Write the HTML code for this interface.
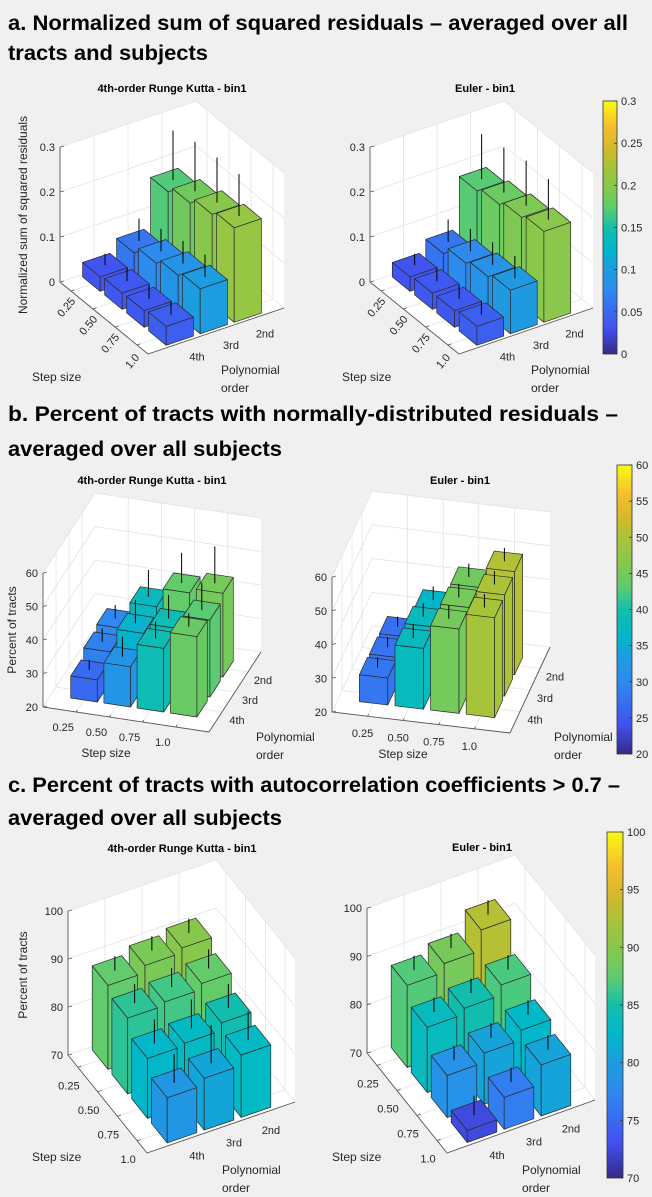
<!DOCTYPE html>
<html><head><meta charset="utf-8">
<style>
html,body{margin:0;padding:0;background:#f0f0f0;}
svg{display:block;font-family:"Liberation Sans",Arial,sans-serif;}
</style></head>
<body>
<svg id="fig" width="652" height="1197" viewBox="0 0 652 1197" xmlns="http://www.w3.org/2000/svg">
<defs>
<linearGradient id="parula" x1="0" y1="1" x2="0" y2="0">
<stop offset="0" stop-color="rgb(53,42,135)"/>
<stop offset="0.1" stop-color="rgb(66,80,240)"/>
<stop offset="0.25" stop-color="rgb(46,138,240)"/>
<stop offset="0.33" stop-color="rgb(30,155,224)"/>
<stop offset="0.42" stop-color="rgb(0,184,200)"/>
<stop offset="0.5" stop-color="rgb(20,190,170)"/>
<stop offset="0.55" stop-color="rgb(65,200,135)"/>
<stop offset="0.58" stop-color="rgb(95,203,110)"/>
<stop offset="0.65" stop-color="rgb(130,200,80)"/>
<stop offset="0.75" stop-color="rgb(170,195,55)"/>
<stop offset="0.8" stop-color="rgb(205,185,45)"/>
<stop offset="0.9" stop-color="rgb(245,190,45)"/>
<stop offset="1" stop-color="rgb(249,251,14)"/>
</linearGradient>
</defs>
<rect width="652" height="1197" fill="#f0f0f0"/>
<g font-weight="bold" font-size="21" fill="#000">
<text x="8" y="30" textLength="620" lengthAdjust="spacingAndGlyphs">a. Normalized sum of squared residuals – averaged over all</text>
<text x="8" y="60" textLength="200" lengthAdjust="spacingAndGlyphs">tracts and subjects</text>
<text x="8" y="421" textLength="610" lengthAdjust="spacingAndGlyphs">b. Percent of tracts with normally-distributed residuals –</text>
<text x="8" y="456" textLength="274" lengthAdjust="spacingAndGlyphs">averaged over all subjects</text>
<text x="8" y="792" textLength="612" lengthAdjust="spacingAndGlyphs">c. Percent of tracts with autocorrelation coefficients &gt; 0.7 –</text>
<text x="8" y="825" textLength="274" lengthAdjust="spacingAndGlyphs">averaged over all subjects</text>
</g>
<g id="panels"></g>
</svg>
<script>
// ---- data ----
const stepLabels = ['0.25','0.50','0.75','1.0'];
const orderLabels = ['4th','3rd','2nd'];
// values[order][step]  order: 4th,3rd,2nd ; step: 0.25..1.0
const aRkValues = [[0.032,0.036,0.037,0.042],[0.06,0.077,0.09,0.10],[0.17,0.185,0.2,0.21]];
const aRkErrors = [[0.025,0.03,0.03,0.03],[0.05,0.05,0.05,0.05],[0.11,0.11,0.10,0.093]];
const aEuValues = [[0.032,0.036,0.037,0.042],[0.058,0.077,0.087,0.097],[0.172,0.182,0.193,0.202]];
const aEuErrors = [[0.025,0.03,0.03,0.03],[0.05,0.05,0.05,0.05],[0.1,0.1,0.1,0.09]];
const bRkValues = [[26.6,32,39,44],[29,36,39,43],[30,38,43.6,45]];
const bRkErrors = [[3,6,5,4],[4,7,7,8],[4,8,9,11]];
const bEuValues = [[28,38,45,49.6],[27.7,38,45,50],[27.4,36.6,44.6,50.5]];
const bEuErrors = [[3,4,4,4],[3,4,4,4],[3,4,4,4]];
const cRkValues = [[87.5,85.8,82.5,79.4],[89,86.5,83,80.8],[90,87.7,84.6,83]];
const cRkErrors = [[3,4,5,6],[3,4,6,8],[3,4,5,6]];
const cEuValues = [[87,83.5,78.7,72.5],[88.8,84.7,80.6,76.6],[93,86.8,82.6,80.6]];
const cEuErrors = [[3,3,3,4],[3,3,3,3],[3,3,3,3]];
const aTicks = [0,0.1,0.2,0.3];
const aTickLabels = ['0','0.1','0.2','0.3'];
const bTicks = [20,30,40,50,60];
const bTickLabels = ['20','30','40','50','60'];
const cTicks = [70,80,90,100];
const cTickLabels = ['70','80','90','100'];
const aBarTicks = ['0','0.05','0.1','0.15','0.2','0.25','0.3'];
const bBarTicks = ['20','25','30','35','40','45','50','55','60'];
const cBarTicks = ['70','75','80','85','90','95','100'];

// ---- colormap ----
const cmapStops = [[0,53,42,135],[0.1,66,80,240],[0.25,46,138,240],[0.33,30,155,224],[0.42,0,184,200],[0.5,20,190,170],[0.55,65,200,135],[0.58,95,203,110],[0.65,130,200,80],[0.75,170,195,55],[0.8,205,185,45],[0.9,245,190,45],[1,249,251,14]];
function parula(t){
  t=Math.max(0,Math.min(1,t));
  for(let i=1;i<cmapStops.length;i++){
    const a=cmapStops[i-1], b=cmapStops[i];
    if(t<=b[0]){const f=(t-a[0])/(b[0]-a[0]);
      return 'rgb('+[1,2,3].map(k=>Math.round(a[k]+(b[k]-a[k])*f)).join(',')+')';}
  }
  return 'rgb(249,251,14)';
}

const NS='http://www.w3.org/2000/svg';
const root=document.getElementById('panels');
function mk(tag,attrs,parent){const e=document.createElementNS(NS,tag);for(const k in attrs)e.setAttribute(k,attrs[k]);(parent||root).appendChild(e);return e;}

function drawPanel(p){
  const g=mk('g',{});
  
  
  const P=(u,v,z)=>[p.P0[0]+p.S[0]*u+p.R[0]*v, p.P0[1]+p.S[1]*u+p.R[1]*v-(z-p.zmin)*p.k];
  const pts=a=>a.map(q=>q[0].toFixed(1)+','+q[1].toFixed(1)).join(' ');
  const sR=p.sLim[1]-p.sLim[0], oR=p.oLim[1]-p.oLim[0];
  const su=i=>(i+1-p.sLim[0])/sR, ov=j=>(j+1-p.oLim[0])/oR;
  const floor=mk('polygon',{points:pts([P(0,0,p.zmin),P(1,0,p.zmin),P(1,1,p.zmin),P(0,1,p.zmin)]),fill:'#fff'},g);
   
  const lw=mk('polygon',{points:pts([P(0,0,p.zmin),P(0,1,p.zmin),P(0,1,p.zmax),P(0,0,p.zmax)]),fill:'#fff'},g);
   
  const bw=mk('polygon',{points:pts([P(0,1,p.zmin),P(1,1,p.zmin),P(1,1,p.zmax),P(0,1,p.zmax)]),fill:'#fff'},g);
   
  const grid=mk('g',{stroke:'#e3e3e3','stroke-width':0.8,fill:'none'},g);
   
  p.ticks.forEach(t=>{mk('polyline',{points:pts([P(0,0,t),P(0,1,t),P(1,1,t)])},grid);});
  for(let i=0;i<4;i++){const u=su(i);mk('polyline',{points:pts([P(u,0,p.zmin),P(u,1,p.zmin),P(u,1,p.zmax)])},grid);}
  for(let j=0;j<3;j++){const v=ov(j);mk('polyline',{points:pts([P(1,v,p.zmin),P(0,v,p.zmin),P(0,v,p.zmax)])},grid);}
  const ax=mk('g',{stroke:'#555','stroke-width':0.9,fill:'none'},g);
   
  mk('polyline',{points:pts([P(0,0,p.zmax),P(0,0,p.zmin),P(1,0,p.zmin),P(1,1,p.zmin)])},ax);
  p.ticks.forEach((t,k)=>{
    const q=P(0,0,t);
    mk('line',{x1:q[0],y1:q[1],x2:q[0]+4,y2:q[1]-1,stroke:'#555','stroke-width':0.8},g);
    const tx=mk('text',{x:q[0]-5,y:q[1]+4,'font-size':11,fill:'#262626','text-anchor':'end'},g);
    tx.textContent=p.tickLabels[k];
     
  });
  stepLabels.forEach((s,i)=>{
    const q=P(su(i),0,p.zmin);
    mk('line',{x1:q[0],y1:q[1],x2:q[0]+p.R[0]*0.025,y2:q[1]+p.R[1]*0.025,stroke:'#555','stroke-width':0.8},g);
    const x=q[0]+p.stepOff[0], y=q[1]+p.stepOff[1];
    const a={x:x,y:y,'font-size':11,fill:'#262626','text-anchor':'middle'};
    if(p.stepRot) a.transform='rotate('+p.stepRot+' '+x+' '+(y-4)+')';
    const tx=mk('text',a,g); tx.textContent=s;
     
  });
  orderLabels.forEach((s,j)=>{
    const q=P(1,ov(j),p.zmin);
    const tx=mk('text',{x:q[0]+p.ordOff[0],y:q[1]+p.ordOff[1],'font-size':11,fill:'#262626','text-anchor':'middle'},g);
    tx.textContent=s;
     
  });
  const hu=0.4/sR, hv=0.4/oR, bars=[];
  for(let j=0;j<3;j++)for(let i=0;i<4;i++){
    const uc=su(i), vc=ov(j);
    bars.push({i,j,uc,vc,val:p.values[j][i],err:p.errors[j][i],key:P(uc,vc,p.zmin)[1]});
  }
  bars.sort((a,b)=>a.key-b.key);
  bars.forEach(b=>{
    const bg=mk('g',{},g);
    
    
    const u0=b.uc-hu,u1=b.uc+hu,v0=b.vc-hv,v1=b.vc+hv,zb=p.zmin,zt=b.val;
    const col=parula((b.val-p.cmin)/(p.cmax-p.cmin));
    const st={fill:col,stroke:'#2a2a2a','stroke-width':0.7,'stroke-linejoin':'round'};
    mk('polygon',Object.assign({points:pts([P(u0,v0,zb),P(u1,v0,zb),P(u1,v0,zt),P(u0,v0,zt)])},st),bg);
    mk('polygon',Object.assign({points:pts([P(u1,v0,zb),P(u1,v1,zb),P(u1,v1,zt),P(u1,v0,zt)])},st),bg);
    mk('polygon',Object.assign({points:pts([P(u0,v0,zt),P(u1,v0,zt),P(u1,v1,zt),P(u0,v1,zt)])},st),bg);
    const e0=P(b.uc,b.vc,zt), e1=P(b.uc,b.vc,zt+b.err);
    const el=mk('line',{x1:e0[0],y1:e0[1],x2:e1[0],y2:e1[1],stroke:'#000','stroke-width':1},g);
    
    
  });
  const tt=mk('text',{x:p.title[1],y:p.title[2],'font-size':11,'font-weight':'bold',fill:'#000','text-anchor':'middle'},g);
  tt.textContent=p.title[0];
   
  if(p.zlabel){
    const zl=mk('text',{x:p.zlabel[1],y:p.zlabel[2],'font-size':12,fill:'#262626','text-anchor':'middle',transform:'rotate(-90 '+p.zlabel[1]+' '+p.zlabel[2]+')'},g);
    zl.textContent=p.zlabel[0];
     
  }
  const sl=mk('text',{x:p.slabel[0],y:p.slabel[1],'font-size':12,fill:'#262626','text-anchor':p.slabel[2]},g);
  sl.textContent='Step size';
   
  const ol=mk('text',{x:p.olabel[0],y:p.olabel[1],'font-size':12,fill:'#262626'},g);
   
  const t1=mk('tspan',{x:p.olabel[0],dy:0},ol); t1.textContent='Polynomial';
  const t2=mk('tspan',{x:p.olabel[0],dy:18},ol); t2.textContent='order';
}

function drawColorbar(c){
  const g=mk('g',{});
  
  
  mk('rect',{x:c.x,y:c.y0,width:c.w,height:c.y1-c.y0,fill:'url(#parula)',stroke:'#333','stroke-width':0.8},g);
  const n=c.labels.length;
  c.labels.forEach((s,k)=>{
    const y=c.y1-(c.y1-c.y0)*k/(n-1);
    mk('line',{x1:c.x+c.w-3,y1:y,x2:c.x+c.w,y2:y,stroke:'#333','stroke-width':0.8},g);
    const t=mk('text',{x:c.x+c.w+4,y:y+4,'font-size':11,fill:'#262626'},g);
    t.textContent=s;
     
  });
}

const aCommon={zmin:0,zmax:0.3,k:450,ticks:aTicks,tickLabels:aTickLabels,sLim:[0.5,4.5],oLim:[0,4],cmin:0,cmax:0.3,stepOff:[-5,20],stepRot:-50,ordOff:[15,18]};
drawPanel(Object.assign({},aCommon,{name:'panel-a-rk4',P0:[60,282],S:[88,72],R:[136,-46],values:aRkValues,errors:aRkErrors,
  title:['4th-order Runge Kutta - bin1',172,92],zlabel:['Normalized sum of squared residuals',27,215],slabel:[32,381,'start'],olabel:[221,374]}));
drawPanel(Object.assign({},aCommon,{name:'panel-a-euler',P0:[370,282],S:[89,72],R:[134,-46],values:aEuValues,errors:aEuErrors,
  title:['Euler - bin1',485,92],zlabel:null,slabel:[342,381,'start'],olabel:[531,374]}));
const bCommon={zmin:20,zmax:60,ticks:bTicks,tickLabels:bTickLabels,sLim:[0,5],oLim:[0,4],cmin:20,cmax:60,stepRot:0,ordOff:[15,12]};
drawPanel(Object.assign({},bCommon,{name:'panel-b-rk4',P0:[43,707],S:[166,25],R:[52,-80],k:3.35,stepOff:[-13,19],values:bRkValues,errors:bRkErrors,
  title:['4th-order Runge Kutta - bin1',152,484],zlabel:['Percent of tracts',16,630],slabel:[106,757,'middle'],olabel:[256,741]}));
drawPanel(Object.assign({},bCommon,{name:'panel-b-euler',P0:[332,712],S:[178,21],R:[40,-86],k:3.375,stepOff:[-5,21],values:bEuValues,errors:bEuErrors,
  title:['Euler - bin1',460,484],zlabel:null,slabel:[403,758,'middle'],olabel:[554,741]}));
const cCommon={zmin:70,zmax:100,ticks:cTicks,tickLabels:cTickLabels,sLim:[0.5,4.5],oLim:[0,4],cmin:70,cmax:100,stepRot:0,stepOff:[-9,22],ordOff:[13,19]};
drawPanel(Object.assign({},cCommon,{name:'panel-c-rk4',P0:[68,1055],S:[79,98],R:[148,-51],k:4.8,values:cRkValues,errors:cRkErrors,
  title:['4th-order Runge Kutta - bin1',182,852],zlabel:['Percent of tracts',27,975],slabel:[32,1161,'start'],olabel:[222,1174]}));
drawPanel(Object.assign({},cCommon,{name:'panel-c-euler',P0:[367,1053],S:[80,100],R:[148,-53],k:4.83,values:cEuValues,errors:cEuErrors,
  title:['Euler - bin1',482,851],zlabel:null,slabel:[332,1161,'start'],olabel:[522,1174]}));

drawColorbar({name:'colorbar-a',x:603,w:14,y0:101,y1:354,labels:aBarTicks});
drawColorbar({name:'colorbar-b',x:617,w:15,y0:465,y1:754,labels:bBarTicks});
drawColorbar({name:'colorbar-c',x:607,w:16,y0:832,y1:1178,labels:cBarTicks});
</script>
</body></html>
